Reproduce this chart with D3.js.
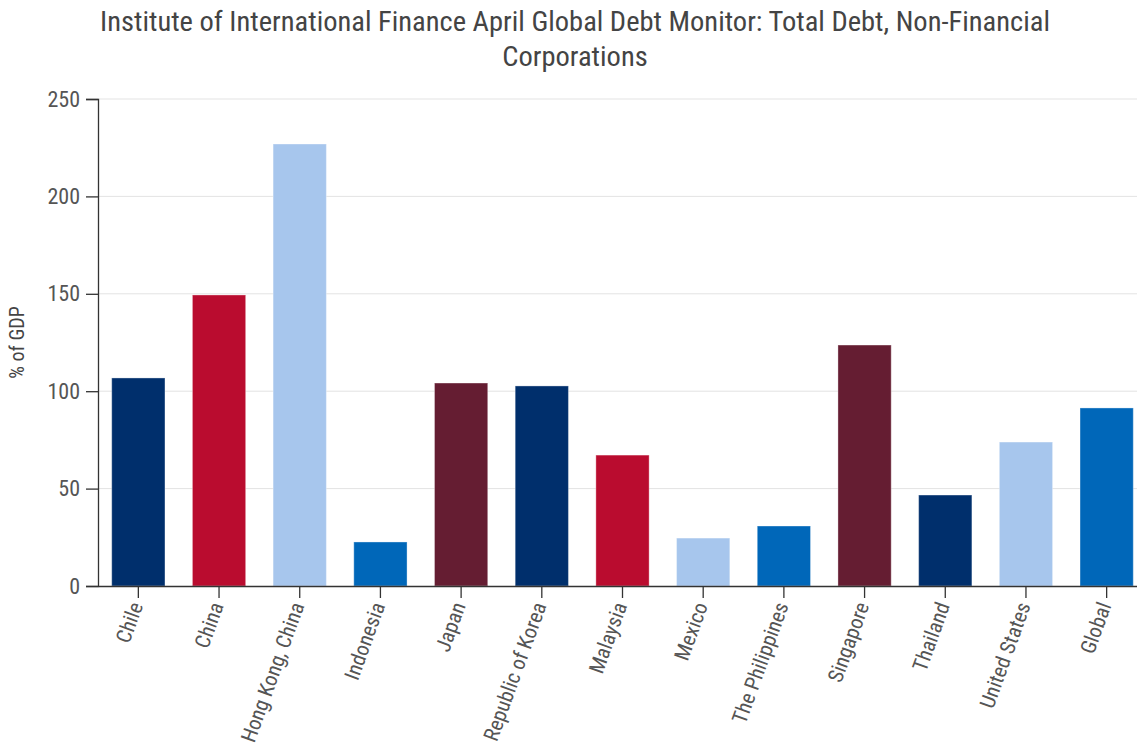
<!DOCTYPE html>
<html>
<head>
<meta charset="utf-8">
<script src="https://cdn.jsdelivr.net/npm/d3@7"></script>
<style>
  body { margin: 0; background: #fff; }
  svg { display: block; }
  svg text { font-family: "Roboto Condensed", "Liberation Sans Narrow", "Roboto", sans-serif; }
</style>
</head>
<body>
<svg id="chart" width="1137" height="746"></svg>
<script>
const categories = ["Chile", "China", "Hong Kong, China", "Indonesia", "Japan", "Republic of Korea",
  "Malaysia", "Mexico", "The Philippines", "Singapore", "Thailand", "United States", "Global"];
const debtPctGDP = [106.8, 149.4, 226.9, 22.6, 104.2, 102.7, 67.2, 24.6, 30.8, 123.7, 46.7, 73.9, 91.4];
const barColorKeys = ["navy", "red", "lightblue", "blue", "maroon", "navy", "red", "lightblue", "blue",
  "maroon", "navy", "lightblue", "blue"];
const yTicks = [0, 50, 100, 150, 200, 250];
const titleLines = ["Institute of International Finance April Global Debt Monitor: Total Debt, Non-Financial", "Corporations"];

const palette = { navy: "#002F6C", red: "#BA0C2F", lightblue: "#A7C6ED", blue: "#0067B9", maroon: "#651D32" };
const font = '"Roboto Condensed", "Liberation Sans Narrow", "Roboto", sans-serif';

const svg = d3.select("#chart");
const margin = { left: 98, top: 99 };
const baseY = 586;
const xEnd = 1147;

const x = d3.scaleBand().domain(categories).range([margin.left, xEnd]).paddingInner(0.34).paddingOuter(0.17);
const y = d3.scaleLinear().domain([0, 250]).range([baseY, margin.top]);

// gridlines
svg.append("g").selectAll("line").data(yTicks.slice(1)).join("line")
  .attr("x1", margin.left).attr("x2", xEnd)
  .attr("y1", d => y(d)).attr("y2", d => y(d))
  .attr("stroke", "#e3e3e3").attr("stroke-width", 1);

// bars
svg.append("g").selectAll("rect").data(categories).join("rect")
  .attr("x", d => x(d)).attr("width", x.bandwidth())
  .attr("y", (d, i) => y(debtPctGDP[i]))
  .attr("height", (d, i) => y(0) - y(debtPctGDP[i]))
  .attr("fill", (d, i) => palette[barColorKeys[i]])
  .attr("stroke", "#ffffff").attr("stroke-opacity", 0.35).attr("stroke-width", 1);

// y axis
const yAxis = svg.append("g").attr("transform", `translate(${margin.left},0)`)
  .call(d3.axisLeft(y).tickValues(yTicks).tickSize(12).tickPadding(6).tickSizeOuter(12));
yAxis.attr("font-family", font);
yAxis.select(".domain").attr("stroke", "#333").attr("stroke-width", 1.3);
yAxis.selectAll(".tick line").attr("stroke", "#333").attr("stroke-width", 1.3);
yAxis.selectAll("text").attr("font-size", 22).attr("fill", "#555");

// x axis
const xAxis = svg.append("g").attr("transform", `translate(0,${y(0)})`)
  .call(d3.axisBottom(x).tickSize(12).tickSizeOuter(0));
xAxis.attr("font-family", font);
xAxis.select(".domain").attr("stroke", "#333").attr("stroke-width", 1.3);
xAxis.selectAll(".tick line").attr("stroke", "#333").attr("stroke-width", 1.3);
xAxis.selectAll("text")
  .attr("font-size", 21).attr("fill", "#555")
  .attr("text-anchor", "end")
  .attr("dy", "0.35em")
  .attr("transform", "translate(-2,17) rotate(-70)")
  .attr("x", 0).attr("y", 0);

// y axis label
svg.append("text")
  .attr("transform", `translate(24,${(margin.top + baseY) / 2}) rotate(-90)`)
  .attr("text-anchor", "middle")
  .attr("font-size", 20).attr("fill", "#444")
  .text("% of GDP");

// title
svg.append("g").selectAll("text").data(titleLines).join("text")
  .attr("x", 575).attr("y", (d, i) => 31 + i * 35)
  .attr("text-anchor", "middle")
  .attr("font-size", 28.5).attr("fill", "#444")
  .text(d => d);
</script>
</body>
</html>
